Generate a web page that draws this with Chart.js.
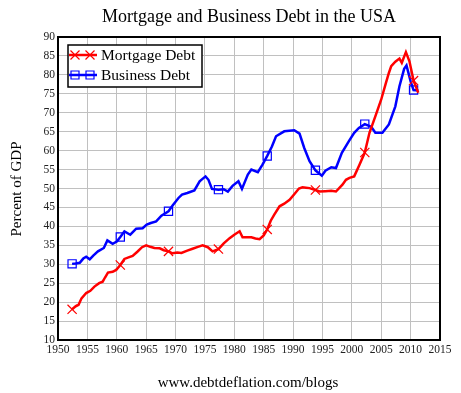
<!DOCTYPE html>
<html>
<head>
<meta charset="utf-8">
<script src="https://cdn.jsdelivr.net/npm/chart.js@4"></script>
<style>
  html, body { margin: 0; padding: 0; background: #fff; }
  #wrap { width: 461px; height: 393px; }
</style>
</head>
<body>
<div id="wrap"><canvas id="myChart" width="461" height="393"></canvas></div>
<script>
'use strict';

// data (year, percent of GDP)
let mortgageYears = [1952.4, 1953.0, 1953.5, 1954.0, 1954.8, 1955.5, 1956.2, 1957.0, 1957.6, 1958.0, 1958.5, 1959.3, 1959.9, 1960.6,
  1961.3, 1962.0, 1962.7, 1963.5, 1964.3, 1965.0, 1965.7, 1966.4, 1967.3, 1968.0, 1968.8, 1969.5, 1970.3, 1971.0, 1972.0, 1972.9,
  1973.8, 1974.6, 1975.5, 1976.3, 1977.3, 1978.2, 1979.2, 1980.0, 1980.9, 1981.4, 1982.2, 1982.9, 1983.6, 1984.3, 1985.0, 1985.6,
  1986.2, 1986.8, 1987.7, 1988.5, 1989.4, 1990.2, 1991.0, 1991.6, 1992.2, 1992.8, 1993.8, 1994.5, 1995.5, 1996.5, 1997.3, 1998.4,
  1999.0, 1999.6, 2000.4, 2001.3, 2002.2, 2003.0, 2004.1, 2005.0, 2005.8, 2006.3, 2006.7, 2007.4, 2008.1, 2008.5, 2009.2, 2009.8,
  2010.5, 2011.3];
let mortgageDebt = [18.1, 18.9, 19.3, 21.0, 22.4, 23.0, 24.1, 25.0, 25.4, 26.5, 27.8, 28.0, 28.5, 29.8,
  31.4, 31.8, 32.2, 33.3, 34.5, 35.0, 34.6, 34.3, 34.2, 33.7, 33.4, 32.9, 33.1, 33.0, 33.6, 34.1,
  34.6, 35.0, 34.5, 33.4, 34.0, 35.5, 36.9, 37.8, 38.7, 37.1, 37.1, 37.1, 36.8, 36.6, 37.6, 39.2,
  41.5, 43.1, 45.3, 46.0, 47.0, 48.5, 50.0, 50.3, 50.2, 50.1, 49.6, 49.2, 49.3, 49.4, 49.2, 51.0,
  52.3, 52.8, 53.2, 56.3, 59.5, 64.7, 69.5, 73.5, 77.9, 80.5, 82.3, 83.5, 84.3, 83.2, 86.0, 83.6,
  78.5, 75.3];

let businessYears = [1952.4, 1953.0, 1953.7, 1954.3, 1954.8, 1955.4, 1956.0, 1956.8, 1957.8, 1958.4, 1959.3, 1960.0, 1960.6,
  1961.3, 1962.3, 1963.3, 1964.4, 1965.1, 1965.8, 1966.7, 1967.6, 1968.8, 1969.5, 1970.5, 1971.1, 1972.0, 1973.2, 1974.1,
  1975.1, 1975.6, 1976.2, 1977.3, 1978.2, 1978.9, 1979.7, 1980.7, 1981.3, 1982.3, 1982.9, 1984.0, 1984.8, 1985.6, 1986.4,
  1987.1, 1988.5, 1990.2, 1991.1, 1991.9, 1992.8, 1993.8, 1994.9, 1995.5, 1996.5, 1997.3, 1998.3, 1999.5, 2000.4, 2001.2,
  2002.2, 2003.3, 2004.0, 2005.2, 2006.3, 2007.4, 2008.1, 2008.9, 2009.3, 2010.0, 2010.5, 2011.3];
let businessDebt = [30.1, 30.2, 30.4, 31.5, 32.0, 31.3, 32.3, 33.4, 34.3, 36.3, 35.4, 36.0, 37.2,
  38.7, 37.8, 39.4, 39.5, 40.5, 40.9, 41.3, 42.8, 44.0, 45.5, 47.5, 48.4, 48.8, 49.5, 51.9,
  53.2, 52.3, 49.9, 49.7, 49.8, 49.2, 50.7, 51.9, 49.9, 53.7, 55.0, 54.3, 56.3, 58.6, 61.1,
  63.8, 65.1, 65.4, 64.5, 60.7, 57.2, 54.8, 53.4, 54.7, 55.6, 55.4, 59.4, 62.5, 64.7, 66.0,
  67.0, 66.3, 64.7, 64.7, 66.9, 71.7, 77.0, 81.6, 82.5, 78.3, 76.0, 75.9];

// years where the markers sit on both lines
let markerYears = [1952.4, 1960.6, 1968.8, 1977.3, 1985.6, 1993.8, 2002.2, 2010.5];

let xTicks = [1950, 2015, 5];
let yTicks = [10, 90, 5];

let chartTitle = 'Mortgage and Business Debt in the USA';
let yTitle = 'Percent of GDP';
let caption = 'www.debtdeflation.com/blogs';
let seriesNames = ['Mortgage Debt', 'Business Debt'];

const serif = '"Liberation Serif", "Times New Roman", serif';
const ctx = document.getElementById('myChart').getContext('2d');

function toPoints(xs, ys) {
  let pts = [];
  for (let i = 0; i < xs.length; i++) {
    pts.push({ x: xs[i], y: ys[i] });
  }
  return pts;
}

function markerRadius(size) {
  return function (c) {
    if (!c.raw) return 0;
    return markerYears.includes(c.raw.x) ? size : 0;
  };
}

// titles, frame and legend drawn on top
const decorations = {
  id: 'decorations',
  afterDraw(chart) {
    let c = chart.ctx;
    let area = chart.chartArea;
    c.save();

    c.strokeStyle = '#000';
    c.lineWidth = 2;
    c.strokeRect(area.left, area.top, area.right - area.left, area.bottom - area.top);

    c.fillStyle = '#000';
    c.textAlign = 'center';
    c.textBaseline = 'middle';
    c.font = '18px ' + serif;
    c.fillText(chartTitle, 249, 17);
    c.font = '15px ' + serif;
    c.fillText(caption, 248, 383);

    c.save();
    c.translate(17, 189);
    c.rotate(-Math.PI / 2);
    c.font = '15px ' + serif;
    c.fillText(yTitle, 0, 0);
    c.restore();

    // legend box
    c.fillStyle = '#fff';
    c.fillRect(68, 45, 134, 42);
    c.strokeStyle = '#000';
    c.lineWidth = 1.5;
    c.strokeRect(68, 45, 134, 42);

    let rows = [55, 75];
    let colors = ['#ff0000', '#0000ff'];
    for (let i = 0; i < 2; i++) {
      let y = rows[i];
      c.strokeStyle = colors[i];
      c.lineWidth = 2.5;
      c.beginPath();
      c.moveTo(69, y);
      c.lineTo(97, y);
      c.stroke();
      c.lineWidth = 1.2;
      [75, 90].forEach(function (mx) {
        c.beginPath();
        if (i === 0) {
          c.moveTo(mx - 4.5, y - 4.5); c.lineTo(mx + 4.5, y + 4.5);
          c.moveTo(mx - 4.5, y + 4.5); c.lineTo(mx + 4.5, y - 4.5);
        } else {
          c.rect(mx - 4, y - 4, 8, 8);
        }
        c.stroke();
      });
      c.fillStyle = '#000';
      c.textAlign = 'left';
      c.font = '15.5px ' + serif;
      c.fillText(seriesNames[i], 101, y + 1);
    }
    c.restore();
  }
};

let chartObject = {
  type: 'line',
  data: {
    datasets: [{
      label: seriesNames[0],
      data: toPoints(mortgageYears, mortgageDebt),
      borderColor: '#ff0000',
      borderWidth: 2.5,
      pointStyle: 'crossRot',
      pointRadius: markerRadius(6.5),
      pointBorderColor: '#ff0000',
      pointBorderWidth: 1.2,
      pointBackgroundColor: 'rgba(0,0,0,0)',
      tension: 0
    },
    {
      label: seriesNames[1],
      data: toPoints(businessYears, businessDebt),
      borderColor: '#0000ff',
      borderWidth: 2.5,
      pointStyle: 'rect',
      pointRadius: markerRadius(5.8),
      pointBorderColor: '#0000ff',
      pointBorderWidth: 1.2,
      pointBackgroundColor: 'rgba(0,0,0,0)',
      tension: 0
    }]
  },
  options: {
    responsive: false,
    animation: false,
    layout: { padding: { top: 37, right: 21, left: 0, bottom: 0 } },
    plugins: {
      legend: { display: false },
      title: { display: false },
      tooltip: { enabled: false }
    },
    scales: {
      x: {
        type: 'linear',
        min: xTicks[0],
        max: xTicks[1],
        afterFit: function (scale) { scale.height = 53; },
        border: { display: false },
        grid: { color: '#c0c0c0', lineWidth: 1, drawTicks: false },
        ticks: {
          stepSize: xTicks[2],
          autoSkip: false,
          maxRotation: 0,
          padding: 3,
          color: '#222',
          font: { family: serif, size: 11.5 },
          callback: function (v) { return String(v); }
        }
      },
      y: {
        min: yTicks[0],
        max: yTicks[1],
        afterFit: function (scale) { scale.width = 58; },
        border: { display: false },
        grid: { color: '#c0c0c0', lineWidth: 1, drawTicks: false },
        ticks: {
          stepSize: yTicks[2],
          padding: 3,
          color: '#222',
          font: { family: serif, size: 11.5 },
          callback: function (v) { return String(v); }
        }
      }
    }
  },
  plugins: [decorations]
};

new Chart(ctx, chartObject);
</script>
</body>
</html>
